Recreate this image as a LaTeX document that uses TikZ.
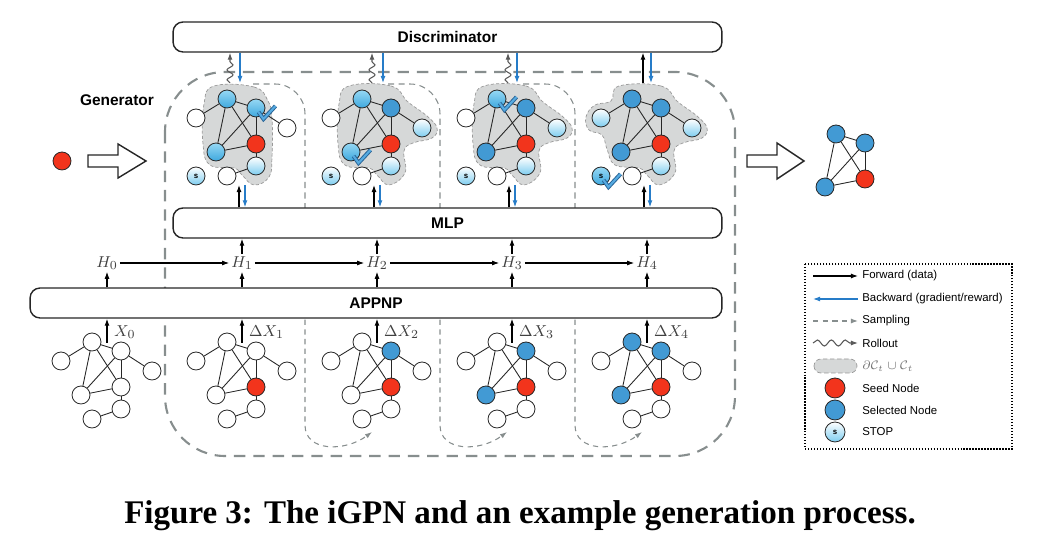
\documentclass[tikz,border=0pt]{standalone}
\usepackage{fontspec}
\setsansfont{Liberation Sans}
\newfontfamily\capfont{Liberation Serif}
\usetikzlibrary{arrows.meta,decorations.pathmorphing}

\definecolor{seed}{RGB}{242,52,28}
\definecolor{picked}{RGB}{66,154,212}
\definecolor{lightcyan}{RGB}{150,216,244}
\definecolor{midcyan}{RGB}{62,168,222}
\definecolor{candcyan}{RGB}{125,205,240}
\definecolor{gradblue}{RGB}{38,124,200}
\definecolor{blobgray}{RGB}{214,216,216}
\definecolor{dashgray}{RGB}{135,142,142}
\definecolor{chkdark}{RGB}{40,100,150}
\definecolor{chklight}{RGB}{85,170,225}

\tikzset{
  box/.style={draw=black!85, line width=0.8pt, rounded corners=0.2cm, fill=white,
    minimum width=#1, minimum height=0.6cm, inner sep=0pt,
    font=\sffamily\bfseries\fontsize{8.8}{10}\selectfont},
  nd/.style={circle, draw=black!85, line width=0.45pt, minimum size=0.36cm, inner sep=0pt, fill=white},
  rd/.style={fill=seed},
  bl/.style={fill=picked},
  lb/.style={top color=lightcyan, bottom color=midcyan},
  hf/.style={top color=white, bottom color=candcyan},
  wn/.style={fill=white},
  stop/.style={font=\sffamily\bfseries\fontsize{4.5}{5}\selectfont},
  edge/.style={line width=0.5pt, black!85},
  blob/.style={fill=blobgray, draw=black!40, dash pattern=on 1.8pt off 1.2pt, line width=0.4pt},
  lbl/.style={inner sep=1pt, text=black!75, font=\fontsize{9.5}{11}\selectfont},
  fwd/.style={line width=0.6pt, -{Latex[length=4pt,width=2.8pt]}},
  bwd/.style={fwd, gradblue},
  roll/.style={fwd, black!65, decorate, decoration={snake, amplitude=0.06cm, segment length=0.2cm, post length=0.1cm}},
  samp/.style={fwd, dashgray, dash pattern=on 3pt off 2.5pt},
  region/.style={dashgray, line width=1.2pt, dash pattern=on 6.5pt off 4.5pt},
  panel/.style={dashgray, line width=0.6pt, dash pattern=on 3.5pt off 2.5pt},
  fat/.style={draw=black!85, line width=0.8pt, fill=white},
  key/.style={anchor=west, inner sep=0pt, font=\sffamily\fontsize{6.5}{8}\selectfont},
  chk out/.style={chkdark, line width=2.3pt},
  chk in/.style={chklight, line width=1.2pt},
  at a/.style={at={(-15,0)}}, at b/.style={at={(14,9)}},
  at c/.style={at={(-46,19)}}, at d/.style={at={(45,29)}},
  at e/.style={at={(-26,53)}}, at f/.style={at={(14,45)}},
  at g/.style={at={(14,67)}}, at h/.style={at={(-15,77)}},
}

\def\fulledges{c/a,a/b,a/e,a/f,b/e,b/f,e/f,f/g,g/h,b/d}
% graph: name, origin, node/fill list, edge list
\newcommand\gph[4]{%
  \begin{scope}[shift={#2}]
    \foreach \n/\s in {#3} \node[nd,at \n,\s] (#1\n) {};
  \end{scope}
  \foreach \u/\v in #4 \draw[edge] (#1\u) -- (#1\v);
}
\newcommand\chk[1]{%
  \draw[chk out] ([shift={(2.5,4)}]#1.center) -- ++(5,7) -- ++(12,-13);
  \draw[chk in] ([shift={(2.5,4)}]#1.center) -- ++(5,7) -- ++(12,-13);
}

\begin{document}
\begin{tikzpicture}[x=0.02cm, y=-0.02cm]
  \useasboundingbox (0,0) rectangle (1042,540);

  %%%%% generator region and step panels %%%%%
  \draw[region, rounded corners=1.2cm] (165,72) rectangle (735,456);
  \foreach \x in {305,440,575} {
    \draw[panel, rounded corners=0.6cm] (\x-52,84) -- (\x,84) -- (\x,210);
    \draw[samp] (\x,310) -- (\x,425) .. controls (\x,452) and (\x+40,452) .. (\x+67,432);
  }

  %%%%% boxes %%%%%
  \node[box=10.98cm] (disc) at (447.5,37) {Discriminator};
  \node[box=10.98cm] (mlp) at (447.5,223) {MLP};
  \node[box=13.84cm] (appnp) at (376,303) {APPNP};

  %%%%% candidate sets %%%%%
  \draw[blob, shift={(242,99)}] plot[smooth cycle, tension=0.7] coordinates {(-28,-13) (12,-12) (26,2) (30,20) (30,58) (27,78) (12,86) (0,76) (-8,69) (-32,66) (-39,45) (-38,5)};
  \foreach \x in {377,512}
    \draw[blob, shift={(\x,99)}] plot[smooth cycle, tension=0.7] coordinates {(-28,-13) (14,-13) (31,3) (50,17) (60,29) (55,39) (36,44) (27,52) (28,74) (12,86) (0,76) (-8,69) (-32,66) (-39,45) (-38,5)};
  \draw[blob, shift={(647,99)}] plot[smooth cycle, tension=0.7] coordinates {(-28,-13) (14,-13) (31,3) (50,17) (60,29) (55,39) (36,44) (27,52) (28,74) (12,86) (0,76) (-8,69) (-32,66) (-40,50) (-45,36) (-58,31) (-61,18) (-52,6) (-36,2)};

  %%%%% generation steps %%%%%
  \gph{t1}{(242,99)}{a/lb,b/lb,c/wn,d/wn,e/lb,f/rd,g/hf,h/wn}{\fulledges}
  \gph{t2}{(377,99)}{a/lb,b/bl,c/wn,d/hf,e/lb,f/rd,g/hf,h/wn}{\fulledges}
  \gph{t3}{(512,99)}{a/lb,b/bl,c/wn,d/hf,e/bl,f/rd,g/hf,h/wn}{\fulledges}
  \gph{t4}{(647,99)}{a/bl,b/bl,c/hf,d/hf,e/bl,f/rd,g/hf,h/wn}{\fulledges}
  \node[nd,hf,stop] (t1s) at (196,176) {s};
  \node[nd,hf,stop] (t2s) at (331,176) {s};
  \node[nd,hf,stop] (t3s) at (466,176) {s};
  \node[nd,lb,stop] (t4s) at (601,176) {s};
  \chk{t1b} \chk{t2e} \chk{t3a} \chk{t4s}

  %%%%% input graphs %%%%%
  \gph{b0}{(107,342)}{a/wn,b/wn,c/wn,d/wn,e/wn,f/wn,g/wn,h/wn}{\fulledges}
  \gph{b1}{(242,342)}{a/wn,b/wn,c/wn,d/wn,e/wn,f/rd,g/wn,h/wn}{\fulledges}
  \gph{b2}{(377,342)}{a/wn,b/bl,c/wn,d/wn,e/wn,f/rd,g/wn,h/wn}{\fulledges}
  \gph{b3}{(512,342)}{a/wn,b/bl,c/wn,d/wn,e/bl,f/rd,g/wn,h/wn}{\fulledges}
  \gph{b4}{(647,342)}{a/bl,b/bl,c/wn,d/wn,e/bl,f/rd,g/wn,h/wn}{\fulledges}

  \foreach \k/\x/\t in {0/107/X_0, 1/242/\Delta X_1, 2/377/\Delta X_2, 3/512/\Delta X_3, 4/647/\Delta X_4} {
    \coordinate (in\k) at (\x,343);
    \draw[fwd] (in\k) -- (in\k |- appnp.south);
    \node[lbl, anchor=west] (x\k) at (\x+5,332) {$\t$};
  }

  %%%%% hidden states %%%%%
  \foreach \k/\x in {0/107,1/242,2/377,3/512,4/647} {
    \node[lbl] (h\k) at (\x,263) {$H_\k$};
    \draw[fwd] (h\k |- appnp.north) -- (h\k);
  }
  \foreach \k in {1,...,4} \draw[fwd] (h\k) -- (h\k |- mlp.south);
  \foreach \j [count=\k] in {0,...,3} \draw[fwd] (h\j) -- (h\k);

  \foreach \x in {242,377,512,647} {
    \coordinate (mu\x) at (\x-3,185);
    \coordinate (md\x) at (\x+3,185);
    \draw[fwd] (mu\x |- mlp.north) -- (mu\x);
    \draw[bwd] (md\x) -- (md\x |- mlp.north);
  }
  \foreach \xw/\xb in {230/240,372/383,508/517} {
    \coordinate (rw\xw) at (\xw,83);
    \coordinate (rb\xb) at (\xb,83);
    \draw[roll] (rw\xw) -- (rw\xw |- disc.south);
    \draw[bwd] (rb\xb |- disc.south) -- (rb\xb);
  }
  \coordinate (rw4) at (643,83);
  \coordinate (rb4) at (651,83);
  \draw[fwd] (rw4) -- (rw4 |- disc.south);
  \draw[bwd] (rb4 |- disc.south) -- (rb4);

  %%%%% seed and result %%%%%
  \node[font=\sffamily\bfseries\fontsize{8.8}{10}\selectfont] (gen) at (117,100) {Generator};
  \node[nd,rd] (seed) at (62,161) {};
  \draw[fat] (88,155) -- (118,155) -- (118,144) -- (146,161) -- (118,178) -- (118,167) -- (88,167) -- cycle;
  \draw[fat] (747,155) -- (777,155) -- (777,143) -- (804,161) -- (777,179) -- (777,167) -- (747,167) -- cycle;
  \gph{o}{(851,134)}{a/bl,b/bl,e/bl,f/rd}{{a/b,a/e,a/f,b/e,b/f,e/f}}

  %%%%% legend %%%%%
  \draw[densely dotted, line width=0.7pt] (805,264) rectangle (1012,449);
  \node[key] (kf) at (862,276) {Forward (data)};
  \node[key] (kb) at (862,299) {Backward (gradient/reward)};
  \node[key] (ksa) at (862,321) {Sampling};
  \node[key] (kr) at (862,343) {Rollout};
  \node[key, text=black!55, font=\fontsize{7.5}{9}\selectfont] (kc) at (862,366) {$\partial\mathcal{C}_t\cup\mathcal{C}_t$};
  \node[key] (ksd) at (862,388) {Seed Node};
  \node[key] (ksl) at (862,410) {Selected Node};
  \node[key] (kst) at (862,432) {STOP};
  \coordinate (kf0) at (813,276);
  \coordinate (kb0) at (813,299);
  \coordinate (ksa0) at (813,321);
  \coordinate (kr0) at (813,343);
  \draw[fwd] (kf0) -- ([xshift=-0.08cm]kf.west);
  \draw[bwd] ([xshift=-0.08cm]kb.west) -- (kb0);
  \draw[samp] (ksa0) -- ([xshift=-0.08cm]ksa.west);
  \draw[roll, decoration={segment length=0.28cm, amplitude=0.06cm}] (kr0) -- ([xshift=-0.08cm]kr.west);
  \draw[blob, dash pattern=on 2.5pt off 1.5pt, rounded corners=0.14cm] (814,359) rectangle (857,373);
  \node[nd,rd,minimum size=0.4cm] (ksd0) at (835,388) {};
  \node[nd,bl,minimum size=0.4cm] (ksl0) at (835,410) {};
  \node[nd,hf,stop,minimum size=0.4cm] (kst0) at (835,432) {s};

  %%%%% caption %%%%%
  \node[font=\capfont\bfseries\fontsize{18.8}{22}\selectfont] (cap) at (520,516) {Figure 3: The iGPN and an example generation process.};
\end{tikzpicture}
\end{document}
